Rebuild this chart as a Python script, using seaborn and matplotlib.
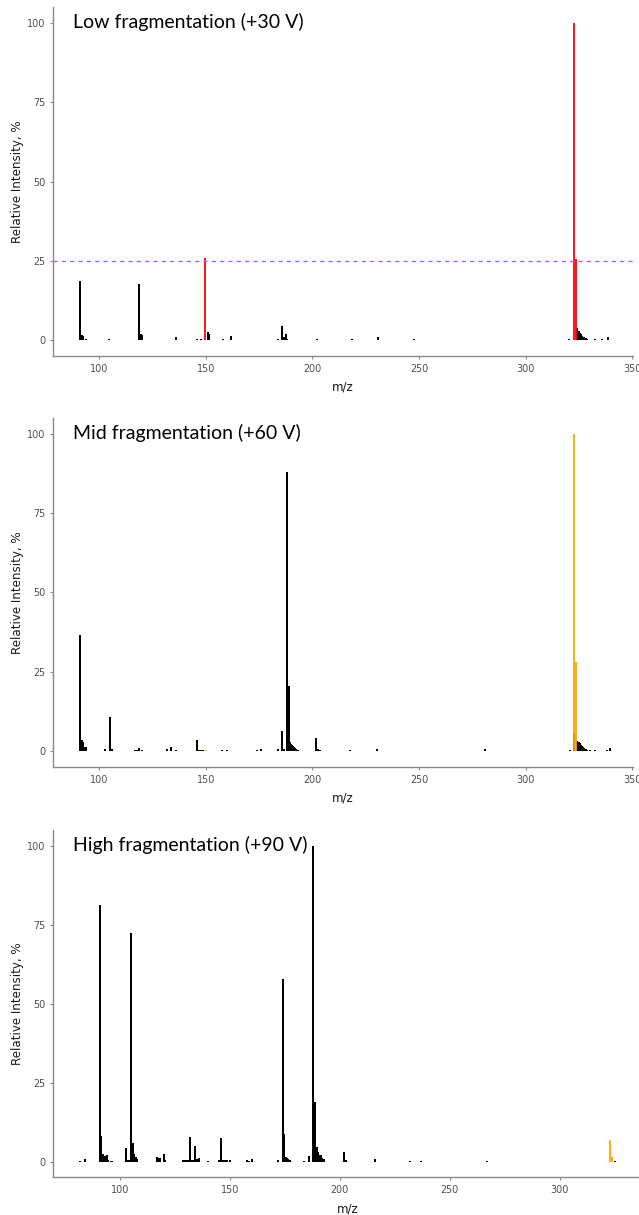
import matplotlib
matplotlib.use("Agg")
import matplotlib.pyplot as plt
import seaborn as sns

# 数据: m/z 与相对强度
titles = ["Low fragmentation (+30 V)", "Mid fragmentation (+60 V)", "High fragmentation (+90 V)"]

mz_low = [91.1, 91.8, 92.4, 94.0, 104.8, 118.9, 119.5, 120.2, 136.0, 146.0, 148.0,
          151.0, 151.5, 158.0, 162.0, 184.0, 186.0, 186.7, 187.5, 188.2, 202.0,
          218.6, 230.8, 247.7, 320.4, 324.3, 324.8, 325.3, 325.8, 326.3, 326.8,
          327.5, 328.2, 328.7, 332.4, 335.9, 338.5]
int_low = [18.6, 1.5, 1.2, 0.4, 0.3, 17.6, 1.8, 1.5, 1.0, 0.3, 0.5,
           2.5, 2.0, 0.3, 1.4, 0.5, 4.6, 1.0, 2.0, 0.5, 0.4,
           0.3, 1.0, 0.3, 0.4, 3.7, 3.0, 2.1, 1.8, 1.2, 1.0,
           1.0, 0.8, 0.5, 0.3, 0.4, 1.0]
mz_low_hl = [149.8, 322.7, 323.8]
int_low_hl = [25.9, 100.0, 25.7]

mz_mid = [91.1, 91.8, 92.4, 93.2, 94.1, 102.8, 105.2, 106.0, 117.0, 118.0, 118.9,
          120.0, 131.7, 133.8, 136.1, 145.8, 146.5, 147.2, 148.0, 148.8, 157.8,
          159.9, 173.9, 176.0, 183.8, 185.6, 186.9, 188.0, 188.9, 189.5, 190.0,
          190.5, 191.0, 191.5, 192.0, 192.5, 193.2, 201.7, 202.5, 203.5, 217.7,
          230.2, 281.0, 320.8, 322.7, 324.3, 324.8, 325.3, 325.8, 326.3, 326.8,
          327.5, 328.2, 329.0, 330.0, 332.5, 338.0, 339.6]
int_mid = [36.5, 3.5, 3.0, 1.4, 1.2, 0.5, 10.8, 0.6, 0.3, 0.4, 1.0,
           0.4, 0.7, 1.2, 0.4, 3.5, 0.3, 0.3, 0.3, 0.3, 0.4,
           0.4, 0.3, 0.5, 0.5, 6.3, 0.5, 88.0, 20.5, 3.0, 2.2,
           1.8, 1.5, 1.2, 1.0, 0.8, 0.4, 4.1, 0.5, 0.4, 0.3,
           0.5, 0.8, 0.3, 5.6, 3.2, 2.8, 2.4, 2.0, 1.6, 1.2,
           0.9, 0.6, 0.4, 0.3, 0.3, 0.3, 1.0]
mz_mid_hl = [150.0, 322.7, 323.6]
int_mid_hl = [0.3, 100.0, 28.2]

mz_high = [81.8, 84.1, 90.9, 91.6, 92.2, 92.8, 93.5, 94.1, 94.8, 96.2,
           102.7, 103.4, 104.2, 104.9, 105.8, 106.5, 107.2, 107.9, 116.7, 117.4,
           118.2, 120.0, 120.6, 128.8, 129.6, 130.4, 131.1, 131.8, 132.6, 133.3,
           134.1, 135.0, 135.9, 140.0, 145.0, 146.0, 146.8, 147.6, 148.5, 150.0,
           157.7, 158.5, 160.0, 171.8, 174.0, 174.7, 175.3, 175.9, 176.5, 177.1,
           183.6, 185.9, 187.9, 188.8, 189.4, 190.0, 190.6, 191.3, 192.0, 192.7,
           202.0, 202.8, 215.9, 231.8, 236.7, 267.0, 325.0]
int_high = [0.3, 0.8, 81.2, 8.0, 2.5, 1.5, 1.8, 2.0, 0.6, 0.3,
            4.3, 0.5, 0.5, 72.5, 5.8, 2.5, 1.5, 0.8, 1.6, 1.2,
            1.0, 2.3, 0.4, 0.5, 0.5, 0.5, 0.6, 7.7, 0.5, 0.5,
            5.0, 0.8, 1.0, 0.3, 0.5, 7.4, 0.5, 0.5, 0.4, 0.5,
            0.5, 0.3, 0.8, 0.5, 57.7, 8.8, 1.5, 1.0, 0.8, 0.5,
            0.3, 1.8, 100.0, 18.8, 4.5, 3.0, 2.2, 2.0, 1.2, 0.8,
            3.2, 0.5, 0.8, 0.3, 0.3, 0.3, 0.3]
mz_high_hl = [322.7, 323.8]
int_high_hl = [6.9, 1.5]

x_ticks_top = [100, 150, 200, 250, 300, 350]
x_ticks_bottom = [100, 150, 200, 250, 300]
y_ticks = [0, 25, 50, 75, 100]

sns.set_theme(style="ticks")
plt.rcParams['font.family'] = ['DejaVu Sans']

fig = plt.figure(figsize=(6.39, 12.15), dpi=100)
positions = [[0.0825, 0.7070, 0.9086, 0.2870],
             [0.0825, 0.3688, 0.9086, 0.2871],
             [0.0825, 0.0309, 0.9219, 0.2861]]
xlims = [(78.3, 350.5), (78.3, 350.5), (69.5, 337.2)]
panels = [(mz_low, int_low, mz_low_hl, int_low_hl, "#FF0000", x_ticks_top),
          (mz_mid, int_mid, mz_mid_hl, int_mid_hl, "#FFA500", x_ticks_top),
          (mz_high, int_high, mz_high_hl, int_high_hl, "#FFA500", x_ticks_bottom)]

grey = "#8a8a8a"
for i, (mz, inten, mz_hl, int_hl, hl_col, xt) in enumerate(panels):
    ax = fig.add_axes(positions[i])
    ax.bar(mz, inten, width=0.95, color="black", linewidth=0)
    ax.bar(mz_hl, int_hl, width=1.05, color=hl_col, alpha=0.9, linewidth=0)
    if i == 0:
        ax.axhline(25, color="#B45CFA", linewidth=1.0, linestyle=(0, (3, 3)))
    ax.set_xlim(*xlims[i])
    ax.set_ylim(-5, 105)
    ax.set_xticks(xt)
    ax.set_yticks(y_ticks)
    sns.despine(ax=ax)
    for s in ["left", "bottom"]:
        ax.spines[s].set_color(grey)
        ax.spines[s].set_linewidth(1.0)
    ax.tick_params(axis="both", colors=grey, labelcolor="#4D4D4D",
                   labelsize=6.9, length=2.5, width=0.8, pad=3)
    ax.set_xlabel("m/z", fontsize=8.6, color="#1a1a1a", labelpad=5)
    ax.set_ylabel("Relative Intensity, %", fontsize=8.6, color="#1a1a1a", labelpad=2)
    ax.text(0.0344, 0.94, titles[i], transform=ax.transAxes, fontsize=14,
            family=["Lato", "DejaVu Sans"], ha="left", va="baseline", color="black")

fig.savefig("out.png", dpi=100)
